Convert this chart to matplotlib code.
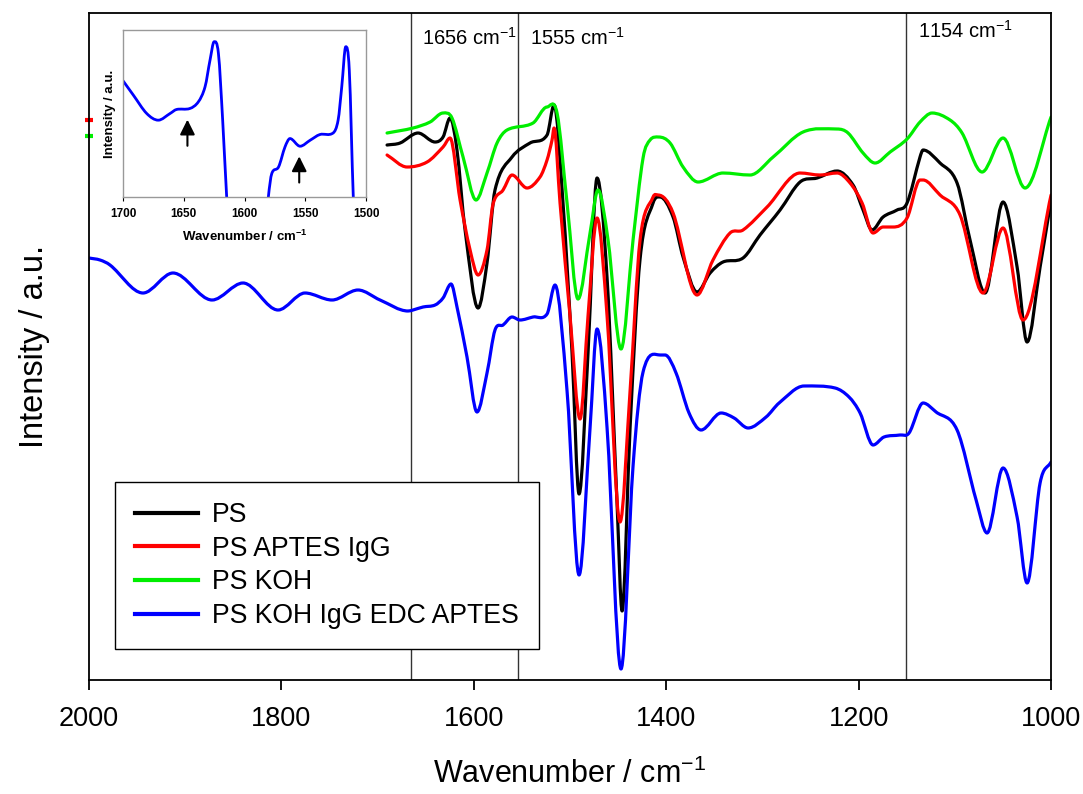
import matplotlib
matplotlib.use("Agg")
import numpy as np
import matplotlib.pyplot as plt
from matplotlib.path import Path
from matplotlib.patches import PathPatch
from matplotlib.lines import Line2D

plt.rcParams["font.family"] = ["Liberation Sans", "DejaVu Sans"]
plt.rcParams["mathtext.fontset"] = "custom"
plt.rcParams["mathtext.rm"] = "Liberation Sans"
plt.rcParams["mathtext.it"] = "Liberation Sans"
plt.rcParams["mathtext.bf"] = "Liberation Sans:bold"

# spectra (wavenumber / cm-1, intensity a.u.)
ps_wn = [1690.2, 1676.7, 1658.0, 1640.3, 1632.0, 1624.7, 1617.5, 1609.1, 1595.6, 1586.3,
         1578.0, 1560.3, 1541.6, 1523.9, 1516.6, 1507.3, 1497.9, 1490.6, 1481.3, 1471.9,
         1461.5, 1451.1, 1445.9, 1437.6, 1427.2, 1413.7, 1406.4, 1392.9, 1382.5, 1368.0,
         1354.4, 1341.0, 1320.2, 1302.5, 1281.7, 1260.9, 1243.2, 1222.4, 1205.8, 1195.4,
         1186.1, 1174.6, 1160.1, 1149.7, 1136.2, 1133.0, 1115.4, 1097.7, 1084.2, 1068.6,
         1049.9, 1035.3, 1024.9, 1011.4, 1000.0]
ps_int = [5.35, 5.37, 5.47, 5.38, 5.43, 5.62, 5.30, 4.50, 3.72, 4.17,
          4.90, 5.23, 5.37, 5.45, 5.75, 4.77, 3.27, 1.86, 3.27, 5.02,
          4.02, 1.76, 0.69, 2.52, 4.21, 4.77, 4.83, 4.63, 4.23, 3.88,
          4.07, 4.18, 4.22, 4.45, 4.70, 4.98, 5.02, 5.09, 4.95, 4.70,
          4.50, 4.63, 4.70, 4.77, 5.23, 5.30, 5.17, 4.97, 4.40, 3.87,
          4.78, 4.13, 3.38, 4.13, 4.80]

igg_wn = [1690.2, 1669.4, 1648.6, 1632.0, 1624.7, 1614.3, 1603.9, 1595.6, 1586.3, 1580.0,
          1569.6, 1560.3, 1544.7, 1531.2, 1523.9, 1518.7, 1516.6, 1510.4, 1500.0, 1489.6,
          1481.3, 1471.9, 1461.5, 1448.0, 1437.6, 1427.2, 1413.7, 1408.5, 1392.9, 1368.0,
          1351.4, 1333.7, 1320.2, 1295.2, 1260.9, 1240.1, 1222.4, 1208.9, 1196.4, 1185.0,
          1174.6, 1164.2, 1149.7, 1136.2, 1133.0, 1115.4, 1094.6, 1070.7, 1049.9, 1029.1,
          1000.0]
igg_int = [5.25, 5.13, 5.18, 5.33, 5.42, 4.80, 4.30, 4.05, 4.30, 4.76,
           4.90, 5.05, 4.92, 5.03, 5.20, 5.40, 5.52, 4.77, 3.64, 2.61,
           3.64, 4.62, 3.64, 1.58, 2.89, 4.40, 4.83, 4.85, 4.67, 3.85,
           4.20, 4.47, 4.50, 4.73, 5.07, 5.05, 5.07, 4.97, 4.77, 4.47,
           4.53, 4.53, 4.62, 5.00, 5.00, 4.85, 4.65, 3.87, 4.52, 3.60,
           4.85]

koh_wn = [1690.2, 1663.2, 1645.5, 1632.0, 1622.7, 1611.2, 1597.7, 1586.3, 1575.9, 1565.5,
          1538.5, 1523.9, 1513.5, 1503.1, 1491.7, 1479.2, 1470.9, 1460.5, 1447.0, 1434.5,
          1424.1, 1416.8, 1408.0, 1396.0, 1382.5, 1366.9, 1341.0, 1312.9, 1288.9, 1257.8,
          1222.4, 1211.0, 1195.4, 1182.9, 1167.3, 1149.7, 1136.2, 1123.7, 1105.0, 1092.5,
          1071.7, 1049.9, 1027.0, 1000.0]
koh_int = [5.47, 5.52, 5.58, 5.67, 5.62, 5.23, 4.80, 5.07, 5.37, 5.50,
           5.57, 5.73, 5.67, 4.77, 3.81, 4.47, 4.90, 4.40, 3.31, 4.40,
           5.22, 5.40, 5.43, 5.37, 5.13, 4.98, 5.07, 5.05, 5.23, 5.48,
           5.51, 5.47, 5.27, 5.17, 5.28, 5.41, 5.58, 5.67, 5.60, 5.47,
           5.08, 5.42, 4.92, 5.63]

edc_wn = [2000.0, 1988.6, 1978.2, 1943.9, 1912.7, 1872.1, 1839.9, 1803.5, 1775.5, 1747.4,
          1720.4, 1697.5, 1668.4, 1663.2, 1652.8, 1640.3, 1632.0, 1623.7, 1617.5, 1607.1,
          1596.7, 1586.3, 1578.0, 1569.6, 1560.3, 1552.0, 1538.5, 1523.9, 1515.6, 1503.1,
          1490.6, 1479.2, 1471.9, 1461.5, 1447.0, 1434.5, 1424.1, 1406.4, 1401.2, 1389.8,
          1376.3, 1363.8, 1343.0, 1329.5, 1314.9, 1296.2, 1282.7, 1256.7, 1224.5, 1210.0,
          1198.5, 1185.0, 1173.6, 1157.0, 1147.6, 1133.0, 1119.5, 1097.7, 1077.9, 1066.5,
          1049.9, 1035.3, 1024.9, 1011.4, 1000.0]
edc_int = [4.22, 4.20, 4.15, 3.87, 4.07, 3.80, 3.97, 3.70, 3.87, 3.80,
           3.90, 3.80, 3.69, 3.70, 3.73, 3.75, 3.82, 3.96, 3.73, 3.23,
           2.68, 3.07, 3.50, 3.55, 3.63, 3.60, 3.63, 3.66, 3.95, 2.89,
           1.05, 2.52, 3.51, 2.52, 0.11, 2.14, 3.08, 3.25, 3.25, 3.07,
           2.67, 2.50, 2.67, 2.62, 2.52, 2.63, 2.77, 2.94, 2.92, 2.83,
           2.67, 2.35, 2.43, 2.45, 2.47, 2.77, 2.68, 2.50, 1.80, 1.47,
           2.12, 1.63, 0.97, 1.97, 2.18]

# inset: zoom of the PS KOH IgG EDC APTES amide region
inset_wn = [1700.0, 1691.5, 1680.5, 1671.0, 1661.3, 1656.0, 1645.0, 1638.0, 1632.5, 1628.4,
            1625.0, 1621.5, 1618.0, 1614.7, 1613.0, 1582.0, 1580.4, 1577.6, 1572.0, 1566.7,
            1562.6, 1554.3, 1546.0, 1538.0, 1527.0, 1523.0, 1520.0, 1516.7, 1513.8, 1510.5,
            1509.0]
inset_int = [3.48, 3.05, 2.50, 2.30, 2.50, 2.62, 2.65, 2.85, 3.30, 4.10,
             4.65, 4.30, 2.30, 0.00, -0.80, -0.80, 0.00, 0.70, 0.90, 1.50,
             1.75, 1.52, 1.70, 1.87, 1.92, 2.30, 3.30, 4.50, 3.80, 0.00,
             -0.80]

marked_wn = [1665, 1554, 1151]
marked_labels = ["1656 cm$^{-1}$", "1555 cm$^{-1}$", "1154 cm$^{-1}$"]
arrow_wn = [1647, 1555]


def smooth_path(x, y):
    # cubic bezier through the read points, flat tangents at peaks/dips
    x = np.asarray(x, float)
    y = np.asarray(y, float)
    n = len(x)
    m = np.zeros(n)
    m[0] = (y[1] - y[0]) / (x[1] - x[0])
    m[-1] = (y[-1] - y[-2]) / (x[-1] - x[-2])
    for i in range(1, n - 1):
        if (y[i] - y[i - 1]) * (y[i + 1] - y[i]) > 0:
            m[i] = (y[i + 1] - y[i - 1]) / (x[i + 1] - x[i - 1])
    verts = [(x[0], y[0])]
    codes = [Path.MOVETO]
    for i in range(n - 1):
        dx = x[i + 1] - x[i]
        verts += [(x[i] + dx / 3, y[i] + m[i] * dx / 3),
                  (x[i + 1] - dx / 3, y[i + 1] - m[i + 1] * dx / 3),
                  (x[i + 1], y[i + 1])]
        codes += [Path.CURVE4] * 3
    return Path(verts, codes)


def draw(a, x, y, color, lw):
    a.add_patch(PathPatch(smooth_path(x, y), fill=False, edgecolor=color, lw=lw,
                          joinstyle="round", capstyle="round"))


fig = plt.figure(figsize=(10.83, 7.94), dpi=100)
ax = fig.add_axes([0.0822, 0.1436, 0.8883, 0.8400])

lw = 2.3
series = [(ps_wn, ps_int, "black", "PS"),
          (igg_wn, igg_int, "#ff0000", "PS APTES IgG"),
          (koh_wn, koh_int, "#00ee00", "PS KOH"),
          (edc_wn, edc_int, "#0000ff", "PS KOH IgG EDC APTES")]
handles = []
for x, y, c, name in series:
    draw(ax, x, y, c, lw)
    handles.append(Line2D([], [], color=c, lw=3, label=name))

for wn in marked_wn:
    ax.axvline(wn, color="#333333", lw=1.0, zorder=0)

ax.text(1653.8, 6.35, marked_labels[0], fontsize=14.5, va="baseline", ha="left")
ax.text(1541.6, 6.35, marked_labels[1], fontsize=14.5, va="baseline", ha="left")
ax.text(1138.2, 6.42, marked_labels[2], fontsize=14.5, va="baseline", ha="left")

ax.set_xlim(2000, 1000)
ax.set_ylim(0, 6.67)
ax.set_yticks([])
ax.set_xticks([2000, 1800, 1600, 1400, 1200, 1000])
ax.tick_params(axis="x", direction="out", length=7, width=1.3, pad=12, labelsize=19.5)
for s in ax.spines.values():
    s.set_linewidth(1.3)
ax.set_xlabel("Wavenumber / cm$^{-1}$", fontsize=22, labelpad=19)
ax.set_ylabel("Intensity / a.u.", fontsize=23.5, labelpad=28)

# small offset marks on the left axis
ax.plot([2000], [5.60], marker="_", color="#ff0000", ms=6, mew=3, clip_on=False)
ax.plot([2000], [5.44], marker="_", color="#00ee00", ms=6, mew=3, clip_on=False)

leg = ax.legend(handles=handles, loc="upper left",
                bbox_to_anchor=(115 / 1083, 1 - 482 / 794),
                bbox_transform=fig.transFigure, borderaxespad=0, fontsize=19.2,
                fancybox=False, framealpha=1, edgecolor="black",
                handlelength=2.36, handletextpad=0.52, labelspacing=0.29,
                borderpad=0.75)
leg.get_frame().set_linewidth(1.0)

ins = fig.add_axes([0.1136, 0.7519, 0.2244, 0.2103])
draw(ins, inset_wn, inset_int, "#0000ff", 2.0)
ins.set_xlim(1700, 1500)
ins.set_ylim(0, 5)
ins.set_yticks([])
ins.set_xticks([1700, 1650, 1600, 1550, 1500])
ins.tick_params(axis="x", direction="out", length=3, width=0.8, pad=5, labelsize=8.5)
for lab in ins.get_xticklabels():
    lab.set_fontweight("bold")
for s in ins.spines.values():
    s.set_color("#999999")
    s.set_linewidth(1.0)
ins.set_xlabel("Wavenumber / cm$^{\\mathbf{-1}}$", fontsize=9.5, fontweight="bold", labelpad=6)
ins.set_ylabel("Intensity / a.u.", fontsize=9.5, fontweight="bold", labelpad=5)
for wn, y0 in zip(arrow_wn, [1.45, 0.35]):
    ins.annotate("", xy=(wn, y0 + 0.95), xytext=(wn, y0),
                 arrowprops=dict(arrowstyle="-|>,head_width=0.45,head_length=0.9",
                                 color="black", lw=1.5))

fig.savefig("out.png", dpi=100)
